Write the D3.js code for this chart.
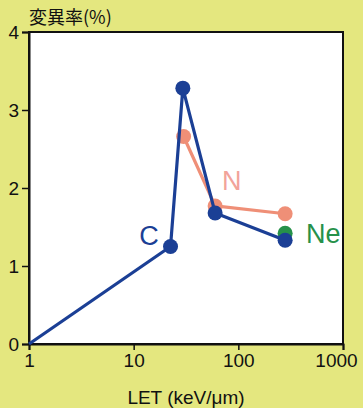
<!DOCTYPE html>
<html>
<head>
<meta charset="utf-8">
<script src="https://cdn.jsdelivr.net/npm/d3@7"></script>
<style>
body { margin: 0; background: #e4e77f; }
svg { display: block; font-family: "Liberation Sans", Arial, sans-serif; }
</style>
</head>
<body>
<div id="vis"></div>
<script>
const WIDTH = 363, HEIGHT = 408;
const MARGINS = {left: 29, right: 20, top: 32, bottom: 64};

// data
const xTicks = [1, 10, 100, 1000];
const yTicks = [0, 1, 2, 3, 4];
const cLET = [1, 22.5, 29.5, 60, 280];
const cRate = [0, 1.25, 3.28, 1.68, 1.33];
const nLET = [30, 60, 280];
const nRate = [2.66, 1.77, 1.67];
const neLET = [280];
const neRate = [1.42];

const series = [
  {name: "C", x: cLET, y: cRate, color: "#1b3f95", labelColor: "#1b3f95", label: [149, 245], anchor: "middle"},
  {name: "N", x: nLET, y: nRate, color: "#ef8f77", labelColor: "#f2a39a", label: [222, 190], anchor: "start"},
  {name: "Ne", x: neLET, y: neRate, color: "#26914a", labelColor: "#26914a", label: [306, 243], anchor: "start"}
];
// draw order: N first, then Ne, then C on top
const drawOrder = [1, 2, 0];

const svg = d3.select("#vis").append("svg")
  .attr("width", WIDTH).attr("height", HEIGHT);

const x = d3.scaleLog().domain([1, 1000]).range([MARGINS.left, WIDTH - MARGINS.right]);
const y = d3.scaleLinear().domain([0, 4]).range([HEIGHT - MARGINS.bottom, MARGINS.top]);

svg.append("rect")
  .attr("x", x(1)).attr("y", y(4))
  .attr("width", x(1000) - x(1)).attr("height", y(0) - y(4))
  .attr("fill", "#fff")
  .attr("stroke", "#111").attr("stroke-width", 2);

const xAxis = svg.append("g")
  .attr("transform", "translate(0," + y(0) + ")")
  .call(d3.axisBottom(x).tickValues(xTicks).tickFormat(d3.format("d")).tickSize(6).tickPadding(4));
const yAxis = svg.append("g")
  .attr("transform", "translate(" + x(1) + ",0)")
  .call(d3.axisLeft(y).tickValues(yTicks).tickFormat(d3.format("d")).tickSize(7).tickPadding(3));

[xAxis, yAxis].forEach(function (a) {
  a.select(".domain").attr("stroke", "#111").attr("stroke-width", 2);
  a.selectAll(".tick line").attr("stroke", "#111").attr("stroke-width", 1.5);
  a.selectAll(".tick text").attr("fill", "#111").attr("font-size", 19)
    .style("font-family", "'Liberation Sans', Arial, sans-serif");
});
yAxis.selectAll(".tick text").attr("dy", "0.36em");
// the last label sits a little to the left so it stays inside the frame
xAxis.selectAll(".tick text").filter(d => d === 1000).attr("dx", -7);

const line = d3.line().x(d => x(d[0])).y(d => y(d[1]));

drawOrder.forEach(function (i) {
  const s = series[i];
  const pts = s.x.map((v, j) => [v, s.y[j]]);
  const g = svg.append("g");
  if (pts.length > 1) {
    g.append("path").datum(pts)
      .attr("d", line).attr("fill", "none")
      .attr("stroke", s.color).attr("stroke-width", 3.2)
      .attr("stroke-linejoin", "round");
  }
  g.selectAll("circle").data(pts.filter(d => d[1] > 0)).enter()
    .append("circle")
    .attr("cx", d => x(d[0])).attr("cy", d => y(d[1]))
    .attr("r", 7.5).attr("fill", s.color);
  svg.append("text")
    .attr("x", s.label[0]).attr("y", s.label[1])
    .attr("text-anchor", s.anchor)
    .attr("font-size", 27).attr("fill", s.labelColor)
    .text(s.name);
});

svg.append("text")
  .attr("x", 29).attr("y", 24)
  .attr("font-size", 18).attr("fill", "#111")
  .style("font-family", "'Noto Sans CJK JP', sans-serif")
  .text("変異率(%)");

svg.append("text")
  .attr("x", (x(1) + x(1000)) / 2).attr("y", 404)
  .attr("text-anchor", "middle")
  .attr("font-size", 19).attr("fill", "#111")
  .text("LET (keV/μm)");
</script>
</body>
</html>
